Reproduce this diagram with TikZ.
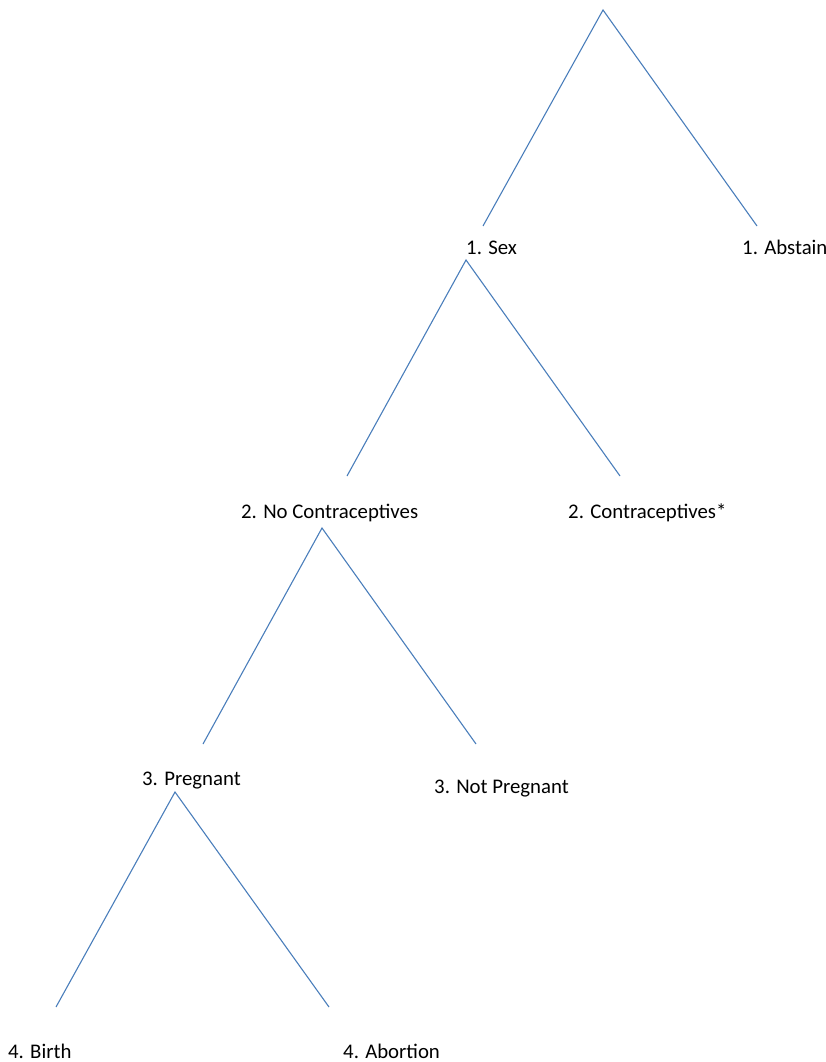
\documentclass[tikz,border=0pt]{standalone}
\usepackage{fontspec}
\setmainfont{Carlito}
\definecolor{lineblue}{HTML}{4A7EBB}
\begin{document}
\begin{tikzpicture}[x=1pt,y=-1pt,
  branch/.style={draw=lineblue,line width=1.1pt},
  lbl/.style={inner sep=0pt,anchor=base west,font=\fontsize{20.8}{24}\selectfont}]
\useasboundingbox (0,0) rectangle (826,1062);
% labels
\node[lbl] (sex) at (466,254) {1. Sex};
\node[lbl] (abstain) at (742,254) {1. Abstain};
\node[lbl] (nocon) at (241,518) {2. No Contraceptives};
\node[lbl] (con) at (568,518) {2. Contraceptives*};
\node[lbl] (preg) at (142,785) {3. Pregnant};
\node[lbl] (notpreg) at (434,793) {3. Not Pregnant};
\node[lbl] (birth) at (8,1058) {4. Birth};
\node[lbl] (abort) at (343,1058) {4. Abortion};
% apexes and ends
\coordinate (a0) at (603,10);
\coordinate (s0) at (483,226);
\coordinate (t0) at (757,226);
\coordinate (a1) at (466,260);
\coordinate (s1) at (347,476);
\coordinate (t1) at (620,476);
\coordinate (a2) at (322,528);
\coordinate (s2) at (203,744);
\coordinate (t2) at (476,744);
\coordinate (a3) at (175,792);
\coordinate (s3) at (56,1007);
\coordinate (t3) at (329,1007);
\draw[branch] (s0) -- (a0) -- (t0);
\draw[branch] (s1) -- (a1) -- (t1);
\draw[branch] (s2) -- (a2) -- (t2);
\draw[branch] (s3) -- (a3) -- (t3);
\end{tikzpicture}
\end{document}
